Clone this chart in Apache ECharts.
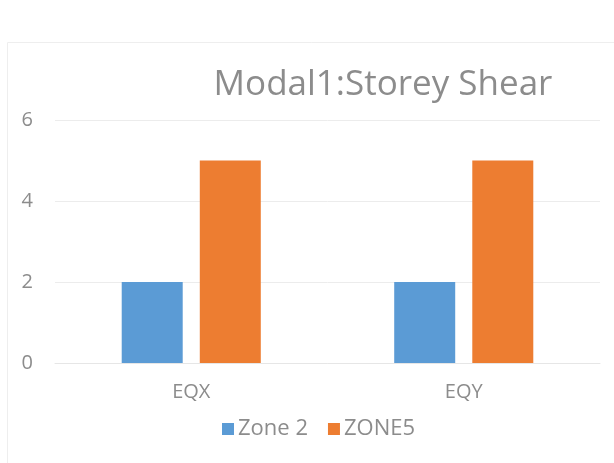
<!DOCTYPE html>
<html><head><meta charset="utf-8">
<script src="https://cdn.jsdelivr.net/npm/echarts@6/dist/echarts.min.js"></script>
<style>html,body{margin:0;padding:0;background:#fff}#c{width:614px;height:463px}</style>
</head><body><div id="c"></div>
<script>
const categories = ['EQX', 'EQY'];
const zone2 = [2, 2];
const zone5 = [5, 5];
const seriesNames = ['Zone 2', 'ZONE5'];
const yTicks = { min: 0, max: 6, interval: 2 };

const chart = echarts.init(document.getElementById('c'), null, { renderer: 'canvas' });
const font = 'Open Sans';
chart.setOption({
  animation: false,
  backgroundColor: '#fff',
  graphic: [{
    type: 'rect', left: 5, top: 40, silent: true,
    shape: { width: 620, height: 422 },
    style: { fill: 'none', stroke: '#eeeeee', lineWidth: 1 }
  }],
  title: {
    text: 'Modal1:Storey Shear', left: 378, top: 63, textAlign: 'center',
    textStyle: { fontFamily: font, fontWeight: 'normal', fontSize: 35, color: '#8c8c8c' }
  },
  legend: {
    data: seriesNames, top: 413, left: 217, itemWidth: 12, itemHeight: 12, itemGap: 20,
    icon: 'rect',
    textStyle: { fontFamily: font, fontSize: 22, color: '#8c8c8c', padding: [0, 0, 0, -1] }
  },
  grid: { left: 55, right: 14, top: 120, bottom: 100 },
  xAxis: {
    type: 'category', data: categories,
    axisLine: { lineStyle: { color: '#e6e6e6' } }, axisTick: { show: false },
    axisLabel: { fontFamily: font, fontSize: 20, color: '#8c8c8c', margin: 19 }
  },
  yAxis: {
    type: 'value', min: yTicks.min, max: yTicks.max, interval: yTicks.interval,
    axisLine: { show: false }, axisTick: { show: false },
    splitLine: { lineStyle: { color: '#ececec' } },
    axisLabel: { fontFamily: font, fontSize: 20, color: '#8c8c8c', margin: 22 }
  },
  series: [
    { name: seriesNames[0], type: 'bar', data: zone2, barWidth: 61, barGap: '28%', itemStyle: { color: '#5B9BD5' } },
    { name: seriesNames[1], type: 'bar', data: zone5, barWidth: 61, barGap: '28%', itemStyle: { color: '#ED7D31' } }
  ]
});
</script></body></html>
